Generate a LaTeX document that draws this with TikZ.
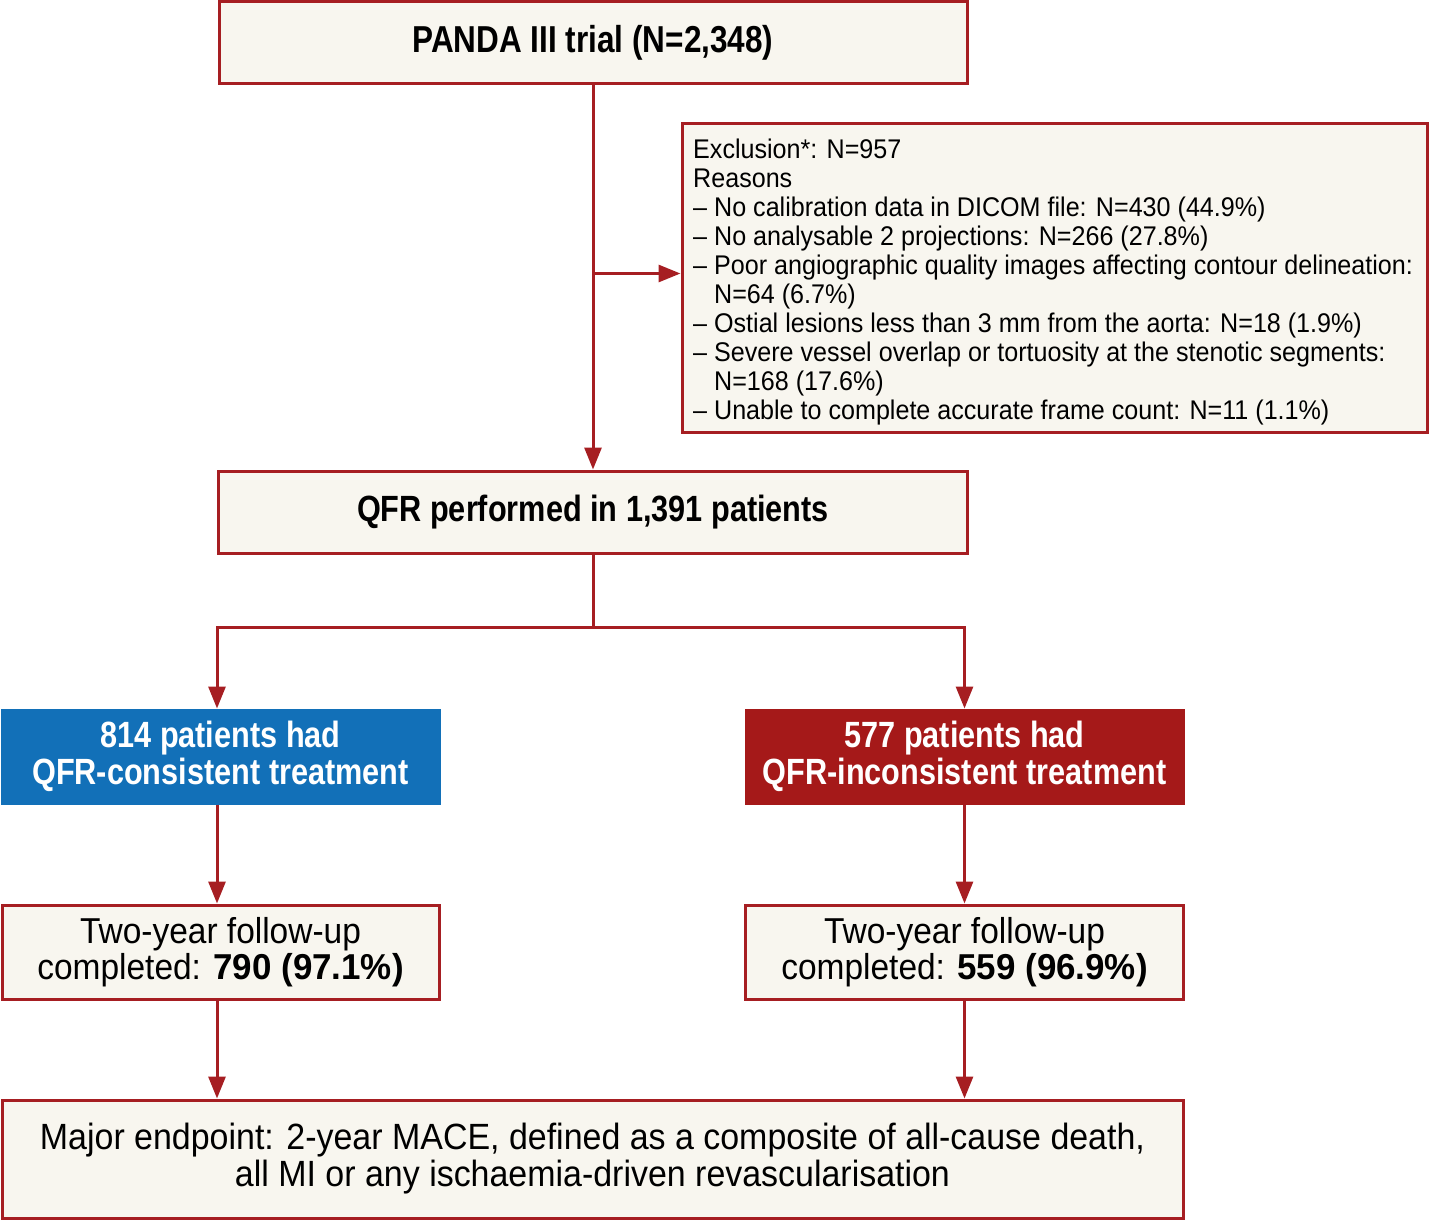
\documentclass[tikz,border=0pt]{standalone}
\usepackage{fontspec}
\usetikzlibrary{arrows.meta,calc}
\newfontfamily\cfreg[FakeStretch=0.93]{Liberation Sans}
\newfontfamily\cfbold[FakeStretch=0.84]{Liberation Sans}
\newfontfamily\cfnum[FakeStretch=0.97]{Liberation Sans}
\definecolor{frame}{RGB}{166,30,34}
\definecolor{cream}{RGB}{248,246,239}
\definecolor{qblue}{RGB}{18,112,184}
\definecolor{qred}{RGB}{165,25,25}
\tikzset{
  box/.style={draw=frame, line width=3pt, fill=cream, inner sep=0pt, align=center},
  colbox/.style={box, text=white, font={\cfbold\bfseries\fontsize{36.5}{37}\selectfont}},
  boldtitle/.style={font={\cfbold\bfseries\fontsize{37.5}{44}\selectfont}},
  regtext/.style={font={\cfreg\fontsize{36}{36.5}\selectfont}},
  arr/.style={draw=frame, line width=3pt, -{Triangle[length=22pt,width=17pt]}},
  ln/.style={draw=frame, line width=3pt},
}
\newcommand{\bnum}[1]{{\cfnum\bfseries #1}}
\begin{document}
\begin{tikzpicture}[x=1pt,y=-1pt]
\useasboundingbox (0,0) rectangle (1429,1220);
\node[box, boldtitle, minimum width=748pt, minimum height=82pt] (top) at (593,43) {PANDA III trial (N=2,348)};
\node[box, minimum width=745pt, minimum height=308pt] (excl) at (1054.5,278) {};
\node[anchor=north west, inner sep=0pt, align=left, font={\cfreg\fontsize{27}{29}\selectfont}] (excltext) at (693,138.5) {Exclusion*: N=957\\
Reasons\\
– No calibration data in DICOM file: N=430 (44.9\%)\\
– No analysable 2 projections: N=266 (27.8\%)\\
– Poor angiographic quality images affecting contour delineation:\\
\phantom{– }N=64 (6.7\%)\\
– Ostial lesions less than 3 mm from the aorta: N=18 (1.9\%)\\
– Severe vessel overlap or tortuosity at the stenotic segments:\\
\phantom{– }N=168 (17.6\%)\\
– Unable to complete accurate frame count: N=11 (1.1\%)};
\node[box, font={\cfbold\bfseries\fontsize{36.5}{44}\selectfont}, minimum width=749pt, minimum height=82pt] (qfr) at (593,512) {QFR performed in 1,391 patients};
\node[colbox, draw=qblue, fill=qblue, minimum width=437pt, minimum height=93pt] (blue) at (220.5,756.5) {814 patients had\\QFR-consistent treatment};
\node[colbox, draw=qred, fill=qred, minimum width=437pt, minimum height=93pt] (red) at (964.5,756.5) {577 patients had\\QFR-inconsistent treatment};
\node[box, regtext, minimum width=437pt, minimum height=94pt] (fl) at (220.5,952) {Two-year follow-up\\completed: \bnum{790 (97.1\%)}};
\node[box, regtext, minimum width=438pt, minimum height=94pt] (fr) at (964.5,952) {Two-year follow-up\\completed: \bnum{559 (96.9\%)}};
\node[box, font={\cfreg\fontsize{36.5}{37}\selectfont}, minimum width=1181pt, minimum height=118pt] (bot) at (592.5,1159) {Major endpoint: 2-year MACE, defined as a composite of all-cause death,\\all MI or any ischaemia-driven revascularisation};
% connectors
\coordinate (j1) at ($(top.south)+(0,188)$);
\draw[arr] (top.south) -- (qfr.north);
\draw[arr] (j1) -- (j1 -| excl.west);
\coordinate (j2) at ($(qfr.south)+(0,73)$);
\coordinate (lx) at (217,0);
\draw[ln] (qfr.south) -- (j2);
\draw[arr] (j2) -| (blue.north -| lx);
\draw[arr] (j2) -| (red.north);
\draw[arr] (blue.south -| lx) -- (fl.north -| lx);
\draw[arr] (red.south) -- (fr.north);
\draw[arr] (fl.south -| lx) -- (bot.north -| lx);
\draw[arr] (fr.south) -- (bot.north -| fr.south);
\end{tikzpicture}
\end{document}
